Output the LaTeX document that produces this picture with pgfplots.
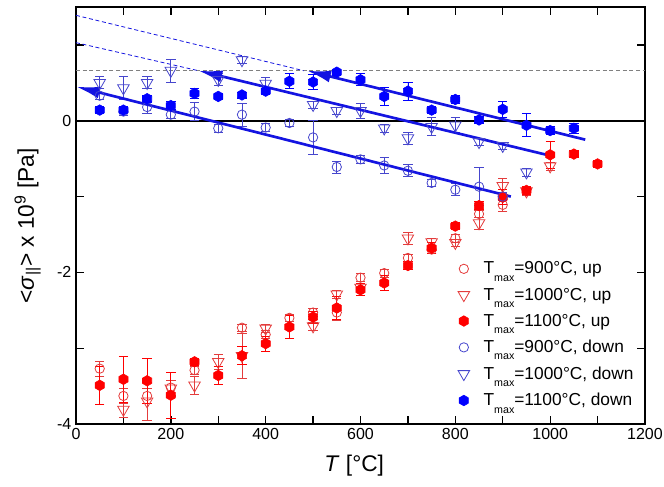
\documentclass[border=0pt]{standalone}
\usepackage{fontspec}
\setmainfont{Liberation Sans}
\usepackage{pgfplots}
\pgfplotsset{compat=1.18}
\usepackage{pgfplotstable}
\usetikzlibrary{arrows.meta}
\definecolor{ropen}{RGB}{228,60,60}
\definecolor{bopen}{RGB}{70,70,205}
\definecolor{rfill}{RGB}{255,0,0}
\definecolor{bfill}{RGB}{0,0,255}
\definecolor{fitblue}{RGB}{20,20,225}
\pgfdeclareplotmark{hex*}{%
  \pgfpathmoveto{\pgfpointpolar{90}{\pgfplotmarksize}}%
  \pgfpathlineto{\pgfpointpolar{150}{\pgfplotmarksize}}%
  \pgfpathlineto{\pgfpointpolar{210}{\pgfplotmarksize}}%
  \pgfpathlineto{\pgfpointpolar{270}{\pgfplotmarksize}}%
  \pgfpathlineto{\pgfpointpolar{330}{\pgfplotmarksize}}%
  \pgfpathlineto{\pgfpointpolar{30}{\pgfplotmarksize}}%
  \pgfpathclose\pgfusepathqfillstroke}
\newcommand{\Tmax}{\hspace{8.5pt}T\raisebox{-5.5pt}{\fontsize{8}{8}\selectfont max}}

% T  value  error
\pgfplotstableread{
T y e
50 -3.27 0.10
100 -3.63 0.10
150 -3.63 0.10
200 -3.52 0.10
250 -3.29 0.05
350 -2.73 0.05
400 -2.82 0.05
450 -2.60 0.05
500 -2.53 0.05
550 -2.53 0.10
600 -2.07 0.05
650 -2.01 0.05
700 -1.81 0.05
750 -1.70 0.05
800 -1.55 0.05
850 -1.23 0.05
900 -1.11 0.08
}\rcirc
\pgfplotstableread{
T y e
100 -3.81 0.10
150 -3.70 0.25
200 -3.53 0.10
250 -3.49 0.12
300 -3.18 0.10
350 -3.10 0.30
400 -2.74 0.05
500 -2.71 0.05
550 -2.29 0.05
600 -2.20 0.05
700 -1.55 0.08
750 -1.60 0.05
800 -1.61 0.05
850 -1.35 0.08
900 -0.86 0.10
950 -0.93 0.05
1000 -0.60 0.05
}\rtri
\pgfplotstableread{
T y e
50 -3.49 0.25
100 -3.41 0.30
150 -3.43 0.30
200 -3.62 0.30
250 -3.18 0.05
300 -3.36 0.12
350 -3.10 0.12
400 -2.94 0.10
450 -2.72 0.15
500 -2.59 0.08
550 -2.47 0.15
600 -2.23 0.08
650 -2.14 0.10
700 -1.91 0.05
750 -1.68 0.07
800 -1.39 0.05
850 -1.12 0.05
900 -1.01 0.10
950 -0.92 0.05
1000 -0.45 0.18
1050 -0.44 0.05
1100 -0.57 0.05
}\rhex
\pgfplotstableread{
T y e
50 0.33 0.05
100 0.12 0.05
150 0.18 0.08
200 0.08 0.05
250 0.12 0.12
300 -0.10 0.05
350 0.08 0.15
400 -0.09 0.05
450 -0.03 0.05
500 -0.22 0.22
550 -0.61 0.08
600 -0.51 0.05
650 -0.59 0.10
700 -0.66 0.08
750 -0.82 0.05
800 -0.91 0.08
850 -0.87 0.25
900 -1.00 0.05
}\bcirc
\pgfplotstableread{
T y e
50 0.50 0.08
100 0.43 0.15
150 0.50 0.08
200 0.66 0.15
300 0.54 0.08
350 0.80 0.05
400 0.49 0.08
500 0.21 0.05
550 0.13 0.05
600 0.13 0.10
650 -0.10 0.05
700 -0.23 0.08
750 -0.08 0.12
800 -0.06 0.10
850 -0.28 0.05
900 -0.33 0.05
950 -0.68 0.05
}\btri
\pgfplotstableread{
T y e
50 0.14 0.05
100 0.14 0.05
150 0.29 0.05
200 0.20 0.05
250 0.36 0.07
300 0.32 0.04
350 0.34 0.04
400 0.39 0.04
450 0.52 0.10
500 0.51 0.10
550 0.64 0.04
600 0.54 0.08
650 0.32 0.12
700 0.39 0.12
750 0.14 0.05
800 0.28 0.05
850 0.01 0.05
900 0.15 0.10
950 -0.06 0.15
1000 -0.13 0.05
1050 -0.10 0.07
}\bhex

\begin{document}
\begin{tikzpicture}
\begin{axis}[
  scale only axis,
  width=426.75pt, height=312.75pt,
  xmin=0, xmax=1200, ymin=-4, ymax=1.5,
  xtick={0,100,...,1200},
  xticklabels={0,,200,,400,,600,,800,,1000,,1200},
  ytick={-4,-3,...,1},
  yticklabels={-4,,-2,,0,},
  tick align=inside,
  major tick length=6pt,
  tick style={line width=1pt, black},
  axis line style={line width=1.4pt},
  tick label style={font=\fontsize{12}{14}\selectfont},
  /pgf/number format/assume math mode=true,
  xlabel={\textit{T} [°C]},
  ylabel={<\textit{σ}\textsubscript{||}> x 10\textsuperscript{9} [Pa]},
  label style={font=\fontsize{17}{20}\selectfont},
  xlabel style={at={(axis description cs:0.489,-0.10)}, anchor=center},
  ylabel style={at={(axis description cs:-0.085,0.475)}, anchor=center},
  legend style={draw=none, fill=none, at={(axis description cs:0.671,0.396)}, anchor=north west,
    font=\fontsize{13}{15}\selectfont, row sep=5pt, inner sep=0pt},
  legend cell align=left,
  error bars/y dir=both,
  error bars/y explicit,
  error bars/error bar style={line width=0.6pt},
  error bars/error mark options={rotate=90, mark size=3.5pt, line width=0.6pt},
]
% reference lines
\addplot[forget plot, gray, line width=0.6pt, dash pattern=on 3pt off 2pt, error bars/y dir=none] coordinates {(0,0.67) (1200,0.67)};
\addplot[forget plot, black, line width=1.4pt, error bars/y dir=none] coordinates {(0,0) (1200,0)};
\addplot[forget plot, fitblue, line width=0.6pt, dash pattern=on 3pt off 2pt, error bars/y dir=none] coordinates {(0,1.39) (480,0.66)};
\addplot[forget plot, fitblue, line width=0.6pt, dash pattern=on 3pt off 2pt, error bars/y dir=none] coordinates {(0,1.03) (258,0.66)};

\addplot[only marks, color=ropen, mark=o, mark size=3.5pt, mark options={line width=0.6pt}]
  table[x=T, y=y, y error=e] {\rcirc};
\addlegendentry{\Tmax=900°C, up}
\addplot[only marks, color=ropen, mark=triangle, mark size=5pt, mark options={line width=0.6pt, rotate=180}]
  table[x=T, y=y, y error=e] {\rtri};
\addlegendentry{\Tmax=1000°C, up}
\addplot[only marks, color=rfill, fill=rfill, mark=hex*, mark size=4pt, mark options={line width=0.4pt}]
  table[x=T, y=y, y error=e] {\rhex};
\addlegendentry{\Tmax=1100°C, up}
\addplot[only marks, color=bopen, mark=o, mark size=3.5pt, mark options={line width=0.6pt}]
  table[x=T, y=y, y error=e] {\bcirc};
\addlegendentry{\Tmax=900°C, down}
\addplot[only marks, color=bopen, mark=triangle, mark size=5pt, mark options={line width=0.6pt, rotate=180}]
  table[x=T, y=y, y error=e] {\btri};
\addlegendentry{\Tmax=1000°C, down}
\addplot[only marks, color=bfill, fill=bfill, mark=hex*, mark size=4pt, mark options={line width=0.4pt}]
  table[x=T, y=y, y error=e] {\bhex};
\addlegendentry{\Tmax=1100°C, down}

% fit lines with arrows
\addplot[forget plot, fitblue, line width=2pt, arrows={Latex[length=18pt,width=9pt]-}, error bars/y dir=none] coordinates {(487,0.66) (1074,-0.25)};
\addplot[forget plot, fitblue, line width=2pt, arrows={Latex[length=18pt,width=9pt]-}, error bars/y dir=none] coordinates {(258,0.66) (1006,-0.47)};
\addplot[forget plot, fitblue, line width=2pt, arrows={Latex[length=18pt,width=9pt]-}, error bars/y dir=none] coordinates {(0,0.45) (917,-1.00)};
\end{axis}
\pgfresetboundingbox
\path ([shift={(-57pt,-47.25pt)}]current axis.south west) rectangle ([shift={(14.25pt,5.25pt)}]current axis.north east);
\end{tikzpicture}
\end{document}
